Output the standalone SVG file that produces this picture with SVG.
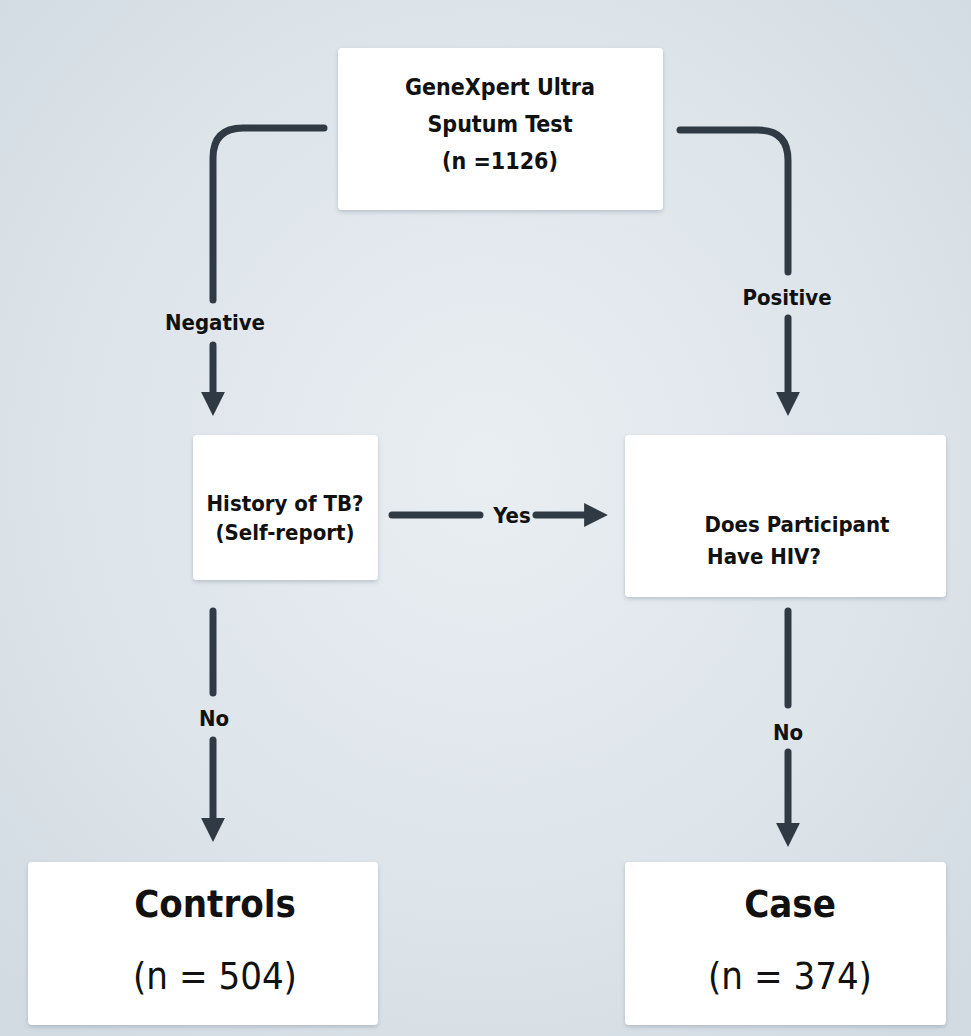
<svg xmlns="http://www.w3.org/2000/svg" width="971" height="1036" viewBox="0 0 971 1036">
<defs>
<radialGradient id="bg" cx="50%" cy="45%" r="70%">
<stop offset="0" stop-color="#e9eef2"/>
<stop offset="0.6" stop-color="#dde4ea"/>
<stop offset="1" stop-color="#d2dbe2"/>
</radialGradient>
<filter id="sh" x="-10%" y="-10%" width="120%" height="130%">
<feDropShadow dx="0" dy="2" stdDeviation="2" flood-color="#6b7a88" flood-opacity="0.35"/>
</filter>
<marker id="ah" viewBox="0 0 10 10" refX="5" refY="5" markerWidth="3.4" markerHeight="3.4" orient="auto" markerUnits="strokeWidth">
<path d="M0,0 L10,5 L0,10 z" fill="#2f3a45"/>
</marker>
</defs>
<style>
.box{fill:#ffffff;filter:url(#sh)}
.t{font-family:"DejaVu Sans Condensed","DejaVu Sans",Roboto,sans-serif;font-weight:bold;fill:#111;text-anchor:middle}
.s{font-size:23px}
.m{font-size:22px}
.big{font-size:38px}
.num{font-size:38px;font-weight:normal}
.line{stroke:#2f3a45;stroke-width:7;fill:none;stroke-linecap:round;stroke-linejoin:round}
</style>
<rect x="0" y="0" width="971" height="1036" fill="url(#bg)"/>
<g id="connectors">
<path class="line" d="M324,128 H243 Q213,128 213,158 V300"/>
<path class="line" d="M213,345 V404" marker-end="url(#ah)"/>
<text class="t m" x="215" y="330">Negative</text>
<path class="line" d="M680,130 H758 Q788,130 788,160 V272"/>
<path class="line" d="M788,318 V404" marker-end="url(#ah)"/>
<text class="t m" x="787" y="305">Positive</text>
<path class="line" d="M392,515 H480"/>
<text class="t m" x="512" y="523">Yes</text>
<path class="line" d="M536,515 H596" marker-end="url(#ah)"/>
<path class="line" d="M213,611 V693"/>
<text class="t m" x="214" y="726">No</text>
<path class="line" d="M213,740 V830" marker-end="url(#ah)"/>
<path class="line" d="M788,611 V705"/>
<text class="t m" x="788" y="740">No</text>
<path class="line" d="M788,752 V835" marker-end="url(#ah)"/>
</g>
<g id="n-genexpert">
<rect class="box" x="338" y="48" width="325" height="162" rx="4"/>
<text class="t s" x="500" y="95">GeneXpert Ultra</text>
<text class="t s" x="500" y="132">Sputum Test</text>
<text class="t s" x="500" y="169">(n =1126)</text>
</g>
<g id="n-history">
<rect class="box" x="193" y="435" width="185" height="145" rx="4"/>
<text class="t m" x="285" y="511">History of TB?</text>
<text class="t m" x="285" y="540">(Self-report)</text>
</g>
<g id="n-hiv">
<rect class="box" x="625" y="435" width="321" height="162" rx="4"/>
<text class="t m" x="797" y="532">Does Participant</text>
<text class="t m" x="764" y="564">Have HIV?</text>
</g>
<g id="n-controls">
<rect class="box" x="28" y="862" width="350" height="163" rx="4"/>
<text class="t big" x="215" y="917">Controls</text>
<text class="t num" x="215" y="989">(n = 504)</text>
</g>
<g id="n-case">
<rect class="box" x="625" y="862" width="321" height="163" rx="4"/>
<text class="t big" x="790" y="917">Case</text>
<text class="t num" x="790" y="989">(n = 374)</text>
</g>
</svg>
